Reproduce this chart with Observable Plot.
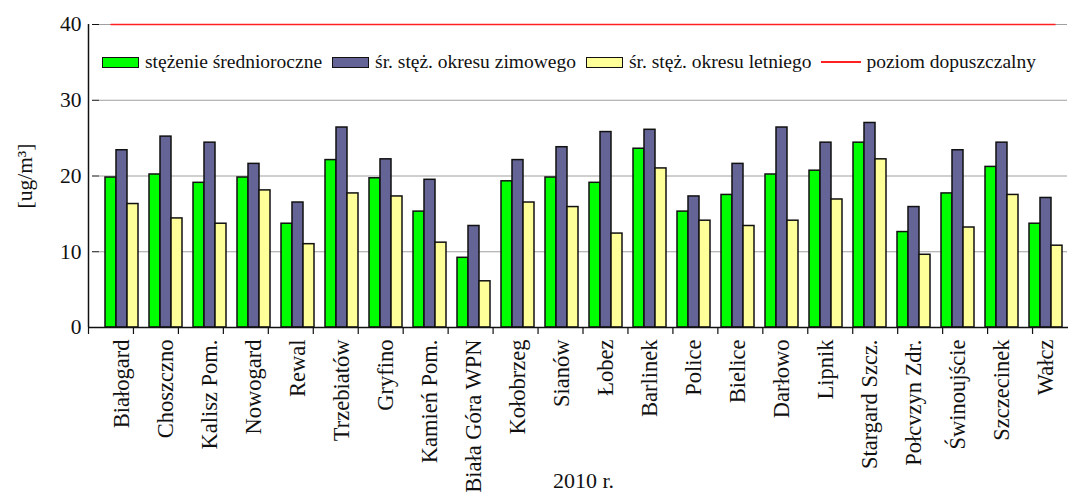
<!DOCTYPE html>
<html>
<head>
<meta charset="utf-8">
<script src="https://cdn.jsdelivr.net/npm/d3@7"></script>
<script src="https://cdn.jsdelivr.net/npm/@observablehq/plot@0.6"></script>
<style>
  html, body { margin: 0; padding: 0; background: white; overflow: hidden; }
  #wrap { position: relative; width: 1068px; height: 493px; font-family: "Liberation Serif", "Times New Roman", serif; }
  #wrap svg { position: absolute; left: 0; top: 0; }
  #legend { position: absolute; left: 102px; top: 51px; display: flex; align-items: center; font-family: "Liberation Serif", serif; font-size: 19.5px; color: #111; white-space: nowrap; }
  #legend .item { display: flex; align-items: center; margin-right: 10px; }
  #legend .sw { width: 35px; height: 9px; border: 1.5px solid #111; margin-right: 6px; }
  #legend .ln { width: 40px; height: 0; border-top: 2px solid #ff2020; margin-right: 5px; }
</style>
</head>
<body>
<div id="wrap"></div>
<script>
// ---- data ----
const cities = ["Białogard","Choszczno","Kalisz Pom.","Nowogard","Rewal","Trzebiatów","Gryfino","Kamień Pom.","Biała Góra WPN","Kołobrzeg","Sianów","Łobez","Barlinek","Police","Bielice","Darłowo","Lipnik","Stargard Szcz.","Połcvzyn Zdr.","Świnoujście","Szczecinek","Wałcz"];
const seriesNames = ["stężenie średnioroczne", "śr. stęż. okresu zimowego", "śr. stęż. okresu letniego"];
const limitName = "poziom dopuszczalny";
const annual = [19.8,20.2,19.1,19.8,13.7,22.1,19.7,15.3,9.2,19.3,19.8,19.1,23.6,15.3,17.5,20.2,20.7,24.4,12.6,17.7,21.2,13.7];
const winter = [23.4,25.2,24.4,21.6,16.5,26.4,22.2,19.5,13.4,22.1,23.8,25.8,26.1,17.3,21.6,26.4,24.4,27.0,15.9,23.4,24.4,17.1];
const summer = [16.3,14.4,13.7,18.1,11.0,17.7,17.3,11.2,6.1,16.5,15.9,12.4,21.0,14.1,13.4,14.1,16.9,22.2,9.6,13.2,17.5,10.8];
const limit = [40,40,40,40,40,40,40,40,40,40,40,40,40,40,40,40,40,40,40,40,40,40];
const yTicks = [0, 10, 20, 30, 40];
const yLabel = "[ug/m³]";
const xLabel = "2010 r.";

// ---- styles ----
const colors = ["#00ff00", "#646496", "#ffff99"];
const limitColor = "#ff2020";

// ---- tables ----
const seriesValues = [annual, winter, summer];
const table = [];
cities.forEach((c, i) => seriesValues.forEach((vals, s) => table.push({city: c, series: seriesNames[s], value: vals[i]})));
const limitTable = cities.map((c, i) => ({idx: i + 0.5, city: c, value: limit[i]}));
const bounds = d3.range(0, cities.length + 1);

const W = 1068, H = 493;
const margins = {marginLeft: 88, marginRight: -9, marginTop: 24, marginBottom: 166};
const font = {fontFamily: "Liberation Serif, Times New Roman, serif"};

const main = Plot.plot({
  width: W, height: H, ...margins,
  style: {...font, fontSize: "21px", color: "#111", background: "white"},
  fx: {domain: cities, padding: 0},
  x: {domain: seriesNames, paddingInner: 0, paddingOuter: 0.5, axis: null},
  y: {domain: [0, 40]},
  color: {domain: seriesNames, range: colors},
  marks: [
    Plot.gridY(yTicks, {stroke: "#a0a0a0", strokeOpacity: 1, strokeWidth: 1}),
    Plot.barY(table, {fx: "city", x: "series", y: "value", fill: "series", stroke: "#111", strokeWidth: 1.5}),
    Plot.axisY({ticks: yTicks, tickSize: 7, tickPadding: 11, fontSize: 21.5, stroke: "#111",
      label: yLabel, labelArrow: "none", labelAnchor: "center", labelOffset: 83}),
    Plot.axisFx({anchor: "bottom", tickRotate: -90, tickSize: 0, tickPadding: 12, fontSize: 22.5,
      label: null}),
    Plot.axisFx({anchor: "bottom", ticks: [], tickSize: 0, fontSize: 22,
      label: xLabel, labelArrow: "none", labelAnchor: "center", labelOffset: 160})
  ]
});

const overlay = Plot.plot({
  width: W, height: H, ...margins,
  style: {...font, background: "transparent"},
  x: {domain: [0, cities.length], axis: null},
  y: {domain: [0, 40], axis: null},
  marks: [
    Plot.ruleX(bounds, {x: d => d, y1: 0, y2: 0, insetBottom: -7, stroke: "#111", strokeWidth: 1.2}),
    Plot.ruleY([0], {stroke: "#111", strokeWidth: 1.5}),
    Plot.ruleX([0], {y1: 0, y2: 40, stroke: "#111", strokeWidth: 1.5}),
    Plot.lineY(limitTable, {x: "idx", y: "value", stroke: limitColor, strokeWidth: 1.5})
  ]
});
overlay.style.pointerEvents = "none";

const wrap = document.getElementById("wrap");
wrap.appendChild(main);
wrap.appendChild(overlay);

// legend
const legend = d3.select(wrap).append("div").attr("id", "legend");
seriesNames.forEach((name, i) => {
  const it = legend.append("div").attr("class", "item");
  it.append("div").attr("class", "sw").style("background", colors[i]);
  it.append("span").text(name);
});
const li = legend.append("div").attr("class", "item");
li.append("div").attr("class", "ln");
li.append("span").text(limitName);
</script>
</body>
</html>
